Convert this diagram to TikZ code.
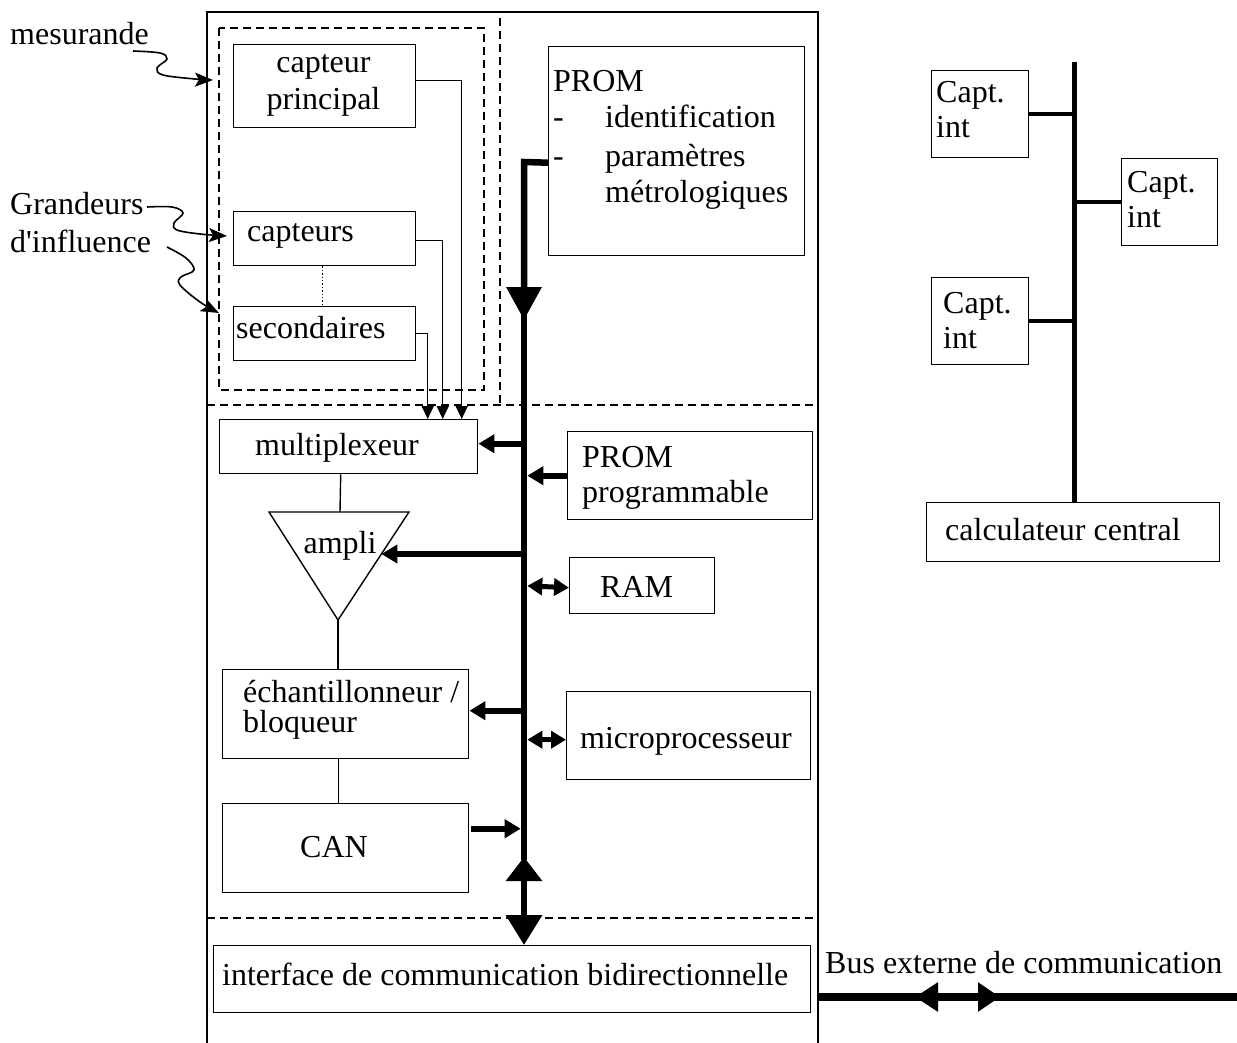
\documentclass[tikz,border=0pt]{standalone}
\usepackage{fontspec}
\setmainfont{Liberation Serif}
\usetikzlibrary{arrows.meta,calc}
\begin{document}
\begin{tikzpicture}[x=1pt,y=-1pt,
  every node/.style={font=\fontsize{32}{37}\selectfont, inner sep=0pt},
  box/.style={draw, line width=1.4pt, anchor=north west},
  txt/.style={anchor=base west},
  ctxt/.style={anchor=base},
  thinln/.style={line width=1.4pt},
  sepln/.style={line width=1.5pt, dash pattern=on 8pt off 5pt},
  wire/.style={line width=1.4pt, -{Triangle[length=13pt,width=12pt]}},
  busln/.style={line width=6.5pt, line join=miter},
  tk/.style={line width=6pt, -{Triangle[length=16pt,width=18pt]}},
  dbl/.style={line width=5pt, {Triangle[length=15pt,width=17pt]}-{Triangle[length=15pt,width=17pt]}},
  wavy/.style={line width=1.6pt, -{Stealth[length=18pt,width=14pt,inset=4pt]}},
  conn/.style={line width=3.8pt},
  extln/.style={line width=8pt}
]
\useasboundingbox (0,0) rectangle (1237,1043);

% frames
\draw[thinln] (207,1043) -- (207,12) -- (818,12) -- (818,1043);
\draw[sepln] (207,12) -- (500,12) -- (500,405);
\draw[sepln] (207,405) -- (818,405);
\draw[sepln] (207,918) -- (818,918);
\draw[sepln] (219,28) rectangle (484,390);

% boxes
\node[box, minimum width=182, minimum height=83] (cp) at (233,44) {};
\node[box, minimum width=182, minimum height=54] (cap) at (233,211) {};
\node[box, minimum width=182, minimum height=54] (sec) at (233,306) {};
\node[box, minimum width=256, minimum height=209] (prom1) at (548,46) {};
\node[box, minimum width=258, minimum height=54] (mux) at (219,419) {};
\node[box, minimum width=245, minimum height=88] (prom2) at (567,431) {};
\node[box, minimum width=145, minimum height=56] (ram) at (569,557) {};
\node[box, minimum width=246, minimum height=89] (ech) at (222,669) {};
\node[box, minimum width=244, minimum height=88] (micro) at (566,691) {};
\node[box, minimum width=246, minimum height=89] (can) at (222,803) {};
\node[box, minimum width=597, minimum height=67] (iface) at (213,945) {};
\node[box, minimum width=97, minimum height=87] (ci1) at (931,70) {};
\node[box, minimum width=96, minimum height=87] (ci2) at (1121,158) {};
\node[box, minimum width=97, minimum height=87] (ci3) at (931,277) {};
\node[box, minimum width=293, minimum height=59] (calc) at (926,502) {};

% amplifier triangle
\coordinate (atl) at (269,512);
\coordinate (atr) at (409,512);
\coordinate (abot) at (338,620);
\coordinate (atop) at (340,512);
\draw[thinln, line join=miter] (atl) -- (atr) -- (abot) -- cycle;

% texts
\node[txt] (tmes) at (10,45) {mesurande};
\node[txt] (tgr1) at (10,215) {Grandeurs};
\node[txt] (tgr2) at (10,253) {d\textquotesingle influence};
\node[ctxt] (tcp1) at (323.5,73) {capteur};
\node[ctxt] (tcp2) at (323.5,110) {principal};
\node[txt] (tcap) at (247,241) {capteurs};
\node[txt] (tsec) at (236,338) {secondaires};
\node[txt] (tp1) at (553,92) {PROM};
\node[txt] (td1) at (553,128) {-};
\node[txt] (tp2) at (605,128) {identification};
\node[txt] (td2) at (553,167) {-};
\node[txt] (tp3) at (605,167) {paramètres};
\node[txt] (tp4) at (605,203) {métrologiques};
\node[txt] (tmux) at (255,455) {multiplexeur};
\node[txt] (tq1) at (582,467) {PROM};
\node[txt] (tq2) at (582,502) {programmable};
\node[ctxt] (tamp) at (340,553) {ampli};
\node[txt] (tram) at (600,597) {RAM};
\node[txt] (te1) at (243,702) {échantillonneur /};
\node[txt] (te2) at (243,732) {bloqueur};
\node[txt] (tmic) at (580,748) {microprocesseur};
\node[txt] (tcan) at (300,857) {CAN};
\node[txt] (tif) at (222,985) {interface de communication bidirectionnelle};
\node[txt] (tc1a) at (936,103) {Capt.};
\node[txt] (tc1b) at (936,138) {int};
\node[txt] (tc2a) at (1127,193) {Capt.};
\node[txt] (tc2b) at (1127,228) {int};
\node[txt] (tc3a) at (943,313) {Capt.};
\node[txt] (tc3b) at (943,348) {int};
\node[txt] (tcal) at (945,540) {calculateur central};
\node[txt] (tbus) at (825,973) {Bus externe de communication};

% wavy input arrows
\draw[wavy] plot[smooth, tension=0.6] coordinates {(133,51) (160,53) (167,59) (157,68) (163,75) (195,79) (213,80)};
\draw[wavy] plot[smooth, tension=0.6] coordinates {(147,207) (172,207) (183,213) (174,223) (177,230) (200,234) (227,236)};
\draw[wavy] plot[smooth, tension=0.6] coordinates {(167,247) (186,258) (194,270) (181,277) (180,285) (200,302) (219,313)};

% sensor wires
\draw[thinln, dotted, line width=1pt] ([xshift=-2pt]cap.south) -- ([xshift=-2pt]sec.north);
\draw[wire] ([yshift=5.5pt]cp.east) -| ([xshift=113pt]mux.north);
\draw[wire] ([yshift=-2pt]cap.east) -| ([xshift=94pt]mux.north);
\draw[wire] (sec.east) -| ([xshift=79pt]mux.north);

% signal chain
\draw[thinln] ([xshift=-8pt]mux.south) -- (atop);
\draw[thinln] (abot) -- (abot |- ech.north);
\draw[thinln] ([xshift=-7pt]ech.south) -- ([xshift=-7pt]can.north);

% internal bus
\coordinate (btop) at (524,162);
\coordinate (bmid) at (524,320);
\coordinate (blow) at (524,857);
\draw[busln, -{Triangle[length=33pt,width=34pt]}] ([yshift=-11.5pt]prom1.west) -- (btop) -- (bmid);
\draw[busln] (524,310) -- (524,860);
\draw[busln, {Triangle[length=24pt,width=35pt]}-{Triangle[length=30pt,width=35pt]}] (blow) -- (btop |- iface.north);

% bus connections
\coordinate (mE) at ([yshift=3pt]mux.east);
\draw[tk] (mE -| btop) -- (mE);
\draw[tk, shorten >=3.3pt] (prom2.west) -- (prom2.west -| btop);
\coordinate (aarr) at ($(atr)!0.3889!(abot)$);
\draw[tk] (aarr -| btop) -- (aarr);
\draw[dbl, shorten <=3.3pt] (ram.west -| btop) -- ([yshift=-2pt]ram.west);
\coordinate (eE) at ([yshift=3.5pt]ech.east);
\draw[tk] (eE -| btop) -- (eE);
\draw[dbl, shorten <=3.3pt] ([yshift=-4pt]micro.west -| btop) -- ([yshift=-4pt]micro.west);
\coordinate (cE) at ([xshift=2pt,yshift=19.5pt]can.east);
\draw[tk, shorten >=3.3pt] (cE) -- (cE -| btop);

% external network
\coordinate (rtop) at (1074,62);
\draw[line width=5pt] (rtop) -- (rtop |- calc.north);
\draw[conn] (ci1.east) -- (ci1.east -| rtop);
\draw[conn] (ci2.west) -- (ci2.west -| rtop);
\draw[conn] (ci3.east) -- (ci3.east -| rtop);

% external bus
\coordinate (ex0) at (818,997);
\coordinate (ex1) at (1237,997);
\coordinate (exl) at (915,997);
\coordinate (exr) at (1000,997);
\draw[extln] (ex0) -- (ex1);
\draw[extln, -{Triangle[length=23pt,width=28pt]}] (950,997) -- (exl);
\draw[extln, -{Triangle[length=22pt,width=28pt]}] (965,997) -- (exr);
\end{tikzpicture}
\end{document}
